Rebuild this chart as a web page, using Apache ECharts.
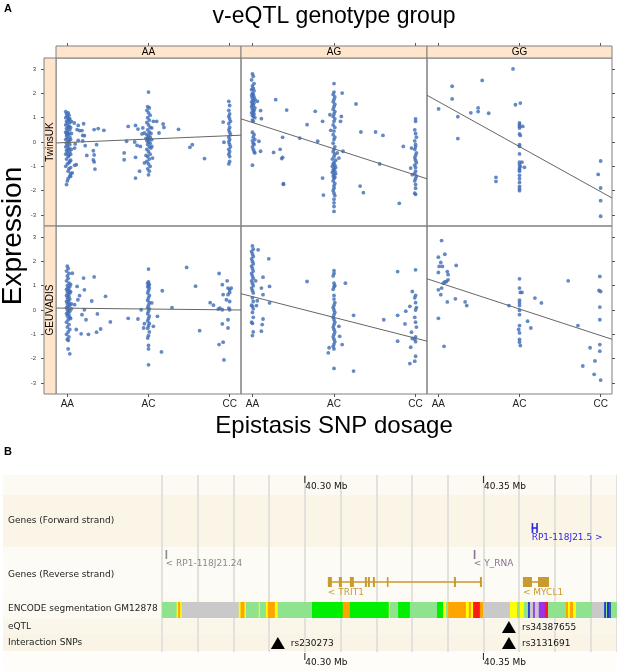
<!DOCTYPE html>
<html lang="en">
<head>
  <meta charset="UTF-8" />
  <title>v-eQTL genotype group</title>
  <script src="https://cdn.jsdelivr.net/npm/echarts@6.0.0/dist/echarts.min.js"></script>
  <style>
    body { margin: 0; background: #fff; }
    #chart { width: 617px; height: 671px; }
  </style>
</head>
<body>
  <div id="chart"></div>
  <script>
    // ---------- panel A data ----------
    const doseLabels = ['AA', 'AC', 'CC'];
    const groupLabels = ['AA', 'AG', 'GG'];
    const cohortLabels = ['TwinsUK', 'GEUVADIS'];
    const doseTicks = [0, 1, 2];
    const expressionTicks = [-3, -2, -1, 0, 1, 2, 3];

    // [epistasis dosage (jittered), expression]
    const twinsUK_AA = [
      [-0.02,1.25],[0.01,1.2],[-0.01,1.15],[0.02,1.1],[0,1.05],[-0.02,1],[0.02,0.95],[0.01,0.9],[-0.01,0.85],[0.03,0.8],
      [0,0.75],[-0.02,0.7],[0.02,0.65],[0.01,0.6],[-0.01,0.55],[0.03,0.5],[0,0.45],[-0.02,0.4],[0.02,0.35],[0.01,0.3],
      [-0.01,0.25],[0.03,0.2],[0,0.15],[-0.02,0.1],[0.02,0.05],[0.01,0],[-0.01,-0.05],[0.03,-0.1],[0,-0.15],[-0.02,-0.2],
      [0.02,-0.25],[0.01,-0.3],[-0.01,-0.35],[0.03,-0.4],[0,-0.45],[-0.02,-0.5],[0.02,-0.55],[0.01,-0.6],[-0.01,-0.7],[0.03,-0.8],
      [0,-0.9],[-0.02,-1],[0.02,-1.1],[0.01,-1.2],[0.04,-1.3],[0.03,-1.4],[0.01,-1.5],[0,-1.6],[-0.01,-1.75],[0.03,0.95],
      [0.04,0.6],[0.04,0.1],[0.05,-0.3],[0.04,-0.75],[-0.01,0.35],[0.02,-0.85],[0.04,-1.05],[0.05,0.35],[0.05,0.85],[0.04,-0.5],
      [0.085,0.78],[0.134,0.68],[0.2,0.75],[0.12,0.51],[0.15,0.47],[0.18,0.47],[0.19,0.27],[0.21,0.26],[0.134,0.07],[0.19,0.05],
      [0.097,-0.08],[0.22,-0.15],[0.09,-0.25],[0.24,-0.55],[0.32,-0.36],[0.33,-0.53],[0.36,-0.11],[0.33,0.51],[0.38,0.55],[0.45,0.48],
      [0.32,-0.74],[0.33,-0.82],[0.34,-1.11],[0.11,-0.93],[0.09,-0.96],[0.06,-1.27],[0.04,-1.41],
      [1,2.05],[0.99,1.45],[1.01,1.4],[0.98,1.3],[1,1.2],[1.02,1.1],[0.99,1],[1.01,0.9],[0.98,0.8],[1,0.7],
      [1.02,0.6],[0.99,0.5],[1.01,0.4],[0.98,0.3],[1,0.25],[1.02,0.2],[0.99,0.15],[1.01,0.1],[0.98,0.05],[1,0],
      [1.02,-0.05],[0.99,-0.1],[1.01,-0.2],[0.98,-0.3],[1,-0.4],[1.02,-0.5],[0.99,-0.6],[1.01,-0.7],[0.98,-0.8],[1,-0.9],
      [1.02,-1],[0.99,-1.1],[1.01,-1.2],[1,-1.35],[1.03,0.35],[0.97,0.15],[1.03,-0.25],[0.97,-0.55],
      [0.7,-0.45],[0.7,-0.73],[0.73,0.03],[0.75,0.64],[0.84,0.68],[0.87,0.53],[0.83,0],[0.86,-0.14],[0.84,-0.63],[0.84,-1.48],
      [0.89,-1.2],[0.9,-0.18],[0.93,0.58],[0.95,0.37],[0.92,0.33],[0.95,-0.86],[1.06,0.85],[1.1,0.85],[1.04,0.58],[1.04,0.1],
      [1.04,-0.18],[1.05,-0.66],[1.13,0.37],[1.18,0.74],[1.19,0.6],[1.37,0.52],[1.51,-0.22],[1.54,-0.11],[1.69,-0.68],
      [1.99,1.67],[2,1.5],[1.99,1.3],[2,1.15],[1.99,1.05],[2,0.95],[2.01,0.85],[1.99,0.75],[2,0.6],[1.99,0.5],
      [2,0.4],[2.01,0.3],[1.99,0.2],[2,0.1],[1.99,0],[2,-0.1],[2.01,-0.2],[1.99,-0.3],[2,-0.4],[1.99,-0.5],
      [2,-0.6],[2,-0.8],[1.99,-0.9],[1.92,0.82],[1.93,-0.01]
    ];
    const twinsUK_AG = [
      [0,2.8],[0.01,2.7],[-0.01,2.55],[0.02,2.4],[0,2.3],[0.01,2.2],[-0.01,2.15],[0.02,2.1],[0,2],[0.01,1.95],
      [-0.01,1.9],[0.02,1.85],[0,1.8],[0.03,1.75],[0.01,1.7],[-0.01,1.65],[0.02,1.6],[0,1.55],[0.01,1.5],[-0.01,1.45],
      [0.03,1.4],[0,1.35],[0.02,1.3],[0.01,1.25],[-0.01,1.2],[0.02,1.15],[0,1.1],[0.01,1.05],[0.03,1],[0,0.9],
      [0.01,0.85],[0,0.4],[0.02,0.3],[0.01,0.2],[0.03,0.1],[0,0.05],[0.01,-0.05],[0.02,-0.1],[0,-0.2],[0.01,-0.3],
      [0.02,-0.4],[0.03,-0.45],[0,-0.95],
      [0.1,1.29],[0.11,0.96],[0.06,1.67],[0.1,-0.38],[0.08,0.03],[0.285,1.74],[0.42,1.31],[0.37,0.19],[0.26,-0.43],[0.34,-0.3],
      [0.37,-0.63],[0.36,-0.68],[0.38,-1.71],[0.38,-1.74],[0.58,0.16],[0.67,0.71],[0.77,1.26],[0.8,0.03],[0.86,0.85],[0.86,-1.48],
      [0.87,-2.18],[0.95,1.12],[0.96,0.48],
      [1,2.4],[1,2.05],[0.99,1.95],[1.01,1.85],[1,1.75],[0.99,1.65],[1.01,1.55],[1,1.45],[0.99,1.35],[1.01,1.25],
      [1,1.15],[0.99,1.05],[1.01,0.95],[1,0.85],[0.99,0.7],[1.01,0.6],[1,0.45],[0.99,0.3],[1.01,0.2],[1,0.1],
      [0.99,-0.05],[1.01,-0.2],[1,-0.3],[0.99,-0.4],[1.01,-0.5],[1,-0.6],[0.98,-0.7],[1.02,-0.75],[1,-0.85],[0.99,-0.9],
      [1.01,-0.95],[0.98,-1],[1.02,-1.05],[1,-1.1],[0.99,-1.15],[1.01,-1.2],[0.98,-1.25],[1.02,-1.3],[1,-1.35],[0.99,-1.4],
      [1.01,-1.45],[1,-1.5],[0.99,-1.6],[1.01,-1.7],[1,-1.8],[1,-1.9],[0.99,-2],[1,-2.1],[1.01,-2.2],[1,-2.35],
      [1,-2.5],[1,-2.65],[1,-2.85],
      [1.1,2.01],[1.09,1.05],[1.08,0.85],[1.04,-0.45],[1.11,-0.38],[1.06,-0.66],[1.27,1.56],[1.33,0.41],[1.51,0.41],[1.6,0.27],
      [1.32,-1.81],[1.36,-2.08],[1.56,-0.9],[1.8,-2.52],[1.85,-0.18],
      [2,0.95],[2,0.85],[1.99,0.5],[2,0.35],[2.01,0.2],[1.99,0.05],[2,-0.1],[2,-0.2],[1.99,-0.3],[2.01,-0.45],
      [2,-0.55],[1.99,-0.65],[2,-0.75],[2.01,-0.85],[1.99,-0.95],[2,-1.05],[2,-1.2],[1.99,-1.3],[2.01,-1.4],[2,-1.5],
      [1.99,-1.6],[2,-1.75],[2,-1.9],[1.99,-2.1],[2,-2.15],[1.95,-0.25],[1.94,-1.07],[1.96,-1.34]
    ];
    const twinsUK_GG = [
      [0.003,1.36],[0.17,2.29],[0.17,1.77],[0.24,1.04],[0.24,0.14],[0.4,1.2],[0.49,1.4],[0.49,1.25],[0.54,2.53],[0.62,1.18],
      [0.71,-1.45],[0.71,-1.62],[0.92,3],[0.95,1.53],[1.01,1.6],[1,0.78],[1,0.71],[1,0.64],[1,0.57],[1,0.33],
      [1.01,0.27],[1,-0.11],[1,-0.18],[1,-0.49],[1,-0.83],[1,-0.93],[1.01,-1],[1,-1.07],[1,-1.14],[1,-1.2],
      [1,-1.37],[1,-1.51],[1,-1.66],[1,-1.82],[1,-1.92],[1,-2],[1.04,0.64],[1.06,-1.04],[1.03,-0.83],
      [2,-0.78],[1.97,-1.33],[2,-1.89],[2,-2.41],[2,-3.05]
    ];
    const geuvadis_AA = [
      [0,1.8],[0.01,1.7],[-0.01,1.6],[0.02,1.5],[0,1.4],[0.01,1.3],[-0.01,1.2],[0.02,1.1],[0,1],[0.03,0.95],
      [0.01,0.9],[-0.01,0.85],[0.02,0.8],[0,0.75],[0.03,0.7],[0.01,0.65],[-0.01,0.6],[0.02,0.55],[0,0.5],[0.03,0.45],
      [0.01,0.4],[-0.01,0.35],[0.02,0.3],[0,0.25],[0.03,0.2],[0.01,0.15],[-0.01,0.1],[0.02,0.05],[0,0],[0.03,-0.05],
      [0.01,-0.1],[-0.01,-0.15],[0.02,-0.2],[0,-0.25],[0.03,-0.3],[0.01,-0.4],[-0.01,-0.5],[0.02,-0.6],[0,-0.7],[0.03,-0.8],
      [0.01,-0.9],[-0.01,-1],[0.02,-1.1],[0,-1.2],[0.01,-1.25],[0.01,-1.6],[0.03,-1.8],[0.04,0.75],[0.05,0.25],[0.04,-0.35],
      [0.05,0.05],[0.04,1.05],
      [0.06,1.51],[0.12,0.97],[0.13,0.42],[0.11,-0.8],[0.17,-0.98],[0.18,-0.19],[0.2,1.31],[0.21,0.83],[0.21,0.01],[0.23,-0.4],
      [0.26,-1],[0.3,0.37],[0.33,1.36],[0.36,-0.91],[0.37,-0.16],[0.41,-0.78],[0.47,0.56],[0.53,-0.49],[0.15,0.59],[0.09,0.22],
      [1,1.68],[1,1.15],[0.99,1.1],[1.01,1.05],[1,1],[0.99,0.95],[1.01,0.9],[1,0.8],[0.99,0.7],[1.01,0.6],
      [1,0.5],[0.99,0.4],[1.01,0.3],[1,0.2],[0.99,0.1],[1.01,0.05],[1,-0.05],[0.99,-0.15],[1.01,-0.25],[1,-0.35],
      [0.99,-0.45],[1.01,-0.55],[1,-0.65],[0.99,-0.75],[1.01,-0.9],[1,-1.05],[0.99,-1.15],[1,-1.45],[1,-1.6],[1,-2.25],
      [0.75,-0.34],[0.87,-0.37],[0.91,0.01],[0.94,-0.74],[0.95,-0.56],[1.04,0.29],[1.06,-0.67],[1.11,-0.26],[1.17,0.79],[1.16,-1.72],
      [1.29,0.1],[1.47,1.75],[1.58,0.98],[1.63,-0.85],[1.76,0.3],[1.8,0.2],
      [1.87,1.5],[1.91,1.04],[1.97,1.2],[1.92,0.63],[1.98,0.9],[2,0.83],[1.98,0.63],[1.96,0.42],[2,0.35],[1.99,0.08],
      [2,0.01],[1.88,0.08],[1.91,0.01],[1.91,-0.57],[1.98,-0.4],[1.98,-0.74],[1.87,-1.42],[1.92,-1.32],[1.93,-2.05],[1.86,0.04],
      [2,0.72],[2.02,0.9]
    ];
    const geuvadis_AG = [
      [0,2.63],[0.01,2.5],[-0.01,2.4],[0,2.3],[0.01,2.2],[-0.01,2.1],[0,2],[0.01,1.9],[-0.01,1.8],[0,1.7],
      [0.01,1.6],[-0.01,1.5],[0,1.4],[0.01,1.3],[-0.01,1.2],[0,1.1],[0.01,1],[-0.01,0.9],[0,0.8],[0.01,0.7],
      [0,0.5],[0.01,0.35],[-0.01,0.2],[0,0.15],[0.01,0.05],[0,-0.1],[0.01,-0.3],[-0.01,-0.5],[0,-0.55],[0.01,-0.9],
      [0,-1.05],
      [0.07,2.47],[0.04,1.2],[0.05,0.18],[0.06,0.38],[0.11,-0.87],[0.12,-0.6],[0.13,1.35],[0.11,0.9],[0.13,-0.37],[0.13,0.63],
      [0.2,2.1],[0.21,0.97],[0.21,0.29],[0.67,1.17],
      [1,1.62],[1,1.5],[0.99,1.4],[1,1.1],[1.01,1],[1,0.95],[0.99,0.85],[1,0.6],[1,0.45],[1.01,0.3],
      [1,0.2],[0.99,0.1],[1,0],[1.01,-0.1],[1,-0.2],[0.99,-0.3],[1,-0.4],[1.01,-0.5],[1,-0.6],[0.99,-0.7],
      [1,-0.8],[1.01,-0.9],[1,-1],[0.99,-1.1],[1,-1.2],[1.01,-1.3],[1,-1.4],[0.99,-1.5],[1,-1.6],[1,-2.4],
      [0.93,-1.76],[0.94,-1.55],[1.06,-0.67],[1.07,-1.08],[1.1,-1.42],[1.14,1.1],[1.24,-0.22],[1.24,-2.51],[1.61,-0.4],[1.78,1.58],
      [1.78,-0.22],[1.78,-1.28],[1.87,-0.57],[1.88,-0.05],[1.93,0.15],[1.93,-2.2],[1.95,-0.91],[1.94,-1.53],[1.96,0.76],[1.96,-1.17],
      [2,1.65],[2,0.6],[1.99,0.5],[2,0.3],[2.01,0.1],[2,0],[1.99,-0.3],[2,-0.5],[2.01,-0.7],[2,-1.1],
      [1.99,-1.2],[2,-1.3],[2,-1.9],[1.99,-2.1]
    ];
    const geuvadis_GG = [
      [0.04,2.85],[0,2.17],[0.08,2.29],[0.03,1.95],[0.01,1.79],[0.05,1.79],[0,1.54],[0.11,1.58],[0.12,1.45],[0.08,1.15],
      [0.1,1.17],[0.06,1.1],[0.12,1.24],[0.22,1.83],[0,0.83],[0.04,0.9],[0.03,0.63],[0.11,0.33],[0.21,0.46],[0.33,0.33],
      [0.35,0.18],[0,-0.34],[0.07,-1.49],
      [1,1.28],[1,0.9],[1.01,0.72],[1.03,0.72],[1,0.4],[1,0.29],[1,0.18],[1,-0.01],[1,-0.19],[1,-0.64],
      [0.99,-0.8],[1,-0.94],[1,-1.21],[1,-1.32],[1.01,-1.46],[1.1,-0.46],[1.14,-0.74],[1.19,0.49],[1.27,0.29],[0.87,0.18],
      [1.6,1.2],[1.72,-0.64],
      [1.99,1.38],[1.98,0.8],[2,0.76],[1.99,0.12],[1.99,-0.4],[1.99,-1.42],[1.99,-1.69],[1.87,-1.55],[1.93,-2.09],[1.78,-2.3],
      [1.92,-2.64],[2,-2.88]
    ];
    const panelPoints = [twinsUK_AA, twinsUK_AG, twinsUK_GG, geuvadis_AA, geuvadis_AG, geuvadis_GG];
    // fitted lines, one per panel (same order)
    const fitIntercept = [-0.02, 0.80, 1.66, 0.075, 0.55, 1.13];
    const fitSlope = [0.14, -1.08, -1.85, -0.035, -0.855, -1.09];

    // ---------- panel B data ----------
    const rulerMarks = [40.30, 40.35];
    const trackLabels = ['Genes (Forward strand)', 'Genes (Reverse strand)', 'ENCODE segmentation GM12878', 'eQTL', 'Interaction SNPs'];
    const geneNames = ['RP1-118J21.5', 'RP1-118J21.24', 'Y_RNA', 'TRIT1', 'MYCL1'];
    const geneStrands = ['+', '-', '-', '-', '-'];
    const geneExons = [
      [[40.36350, 40.36378], [40.36479, 40.36507]],
      [[40.26100, 40.26130]],
      [[40.34730, 40.34760]],
      [[40.30644, 40.30756], [40.30952, 40.31036], [40.31261, 40.31373], [40.31681, 40.31737], [40.31765, 40.31821],
       [40.31905, 40.31961], [40.32297, 40.32325], [40.34174, 40.34230], [40.34902, 40.34958]],
      [[40.36106, 40.36359], [40.36527, 40.36835]]
    ];
    // [start Mb, end Mb, chromatin state]
    const encodeSegments = [
      [40.2600,40.2641,'lg'],[40.2641,40.2645,'y'],[40.2645,40.2651,'o'],[40.2651,40.2655,'y'],[40.2655,40.2815,'gr'],
      [40.2815,40.2820,'y'],[40.2820,40.2831,'o'],[40.2831,40.2835,'y'],[40.2835,40.2871,'lg'],[40.2871,40.2874,'y'],
      [40.2874,40.2891,'lg'],[40.2891,40.2896,'y'],[40.2896,40.2916,'o'],[40.2916,40.2924,'y'],[40.2924,40.3020,'lg'],
      [40.3020,40.3106,'g'],[40.3106,40.3126,'o'],[40.3126,40.3235,'g'],[40.3235,40.3238,'y'],[40.3238,40.3261,'lg'],
      [40.3261,40.3294,'g'],[40.3294,40.3370,'lg'],[40.3370,40.3387,'g'],[40.3387,40.3395,'y'],[40.3395,40.3401,'lg'],
      [40.3401,40.3451,'o'],[40.3451,40.3459,'y'],[40.3459,40.3465,'o'],[40.3465,40.3471,'y'],[40.3471,40.3490,'r'],
      [40.3490,40.3499,'o'],[40.3499,40.3574,'gr'],[40.3574,40.3594,'y'],[40.3594,40.3602,'lg'],[40.3602,40.3613,'y'],
      [40.3613,40.3625,'lg'],[40.3625,40.3630,'b'],[40.3630,40.3639,'gr'],[40.3639,40.3644,'p'],[40.3644,40.3655,'gr'],
      [40.3655,40.3672,'p'],[40.3672,40.3681,'r'],[40.3681,40.3731,'lg'],[40.3731,40.3737,'o'],[40.3737,40.3742,'y'],
      [40.3742,40.3751,'o'],[40.3751,40.3759,'y'],[40.3759,40.3804,'lg'],[40.3804,40.3838,'gr'],[40.3838,40.3843,'b'],
      [40.3843,40.3846,'lg'],[40.3846,40.3852,'b'],[40.3852,40.3857,'db'],[40.3857,40.3874,'lg']
    ];
    const eqtlNames = ['rs34387655'];
    const eqtlPos = [40.35714];
    const snpNames = ['rs230273', 'rs3131691'];
    const snpPos = [40.29244, 40.35714];

    // ---------- styles / layout ----------
    const FONT_A = '"Liberation Sans", Arial, sans-serif';
    const FONT_B = '"DejaVu Sans", sans-serif';
    const POINT = '#3d6cb5';
    const STRIP = '#ffe5cc';
    const BORDER = '#808080';
    const stateColors = { lg: '#8fe38f', g: '#00ee00', o: '#ffa500', y: '#ffff00', r: '#ff1a1a',
                          gr: '#c9c9c9', b: '#2233cc', p: '#9933ee', db: '#1d5f8c' };
    const geneColors = { 'RP1-118J21.5': '#2a2ae0', 'RP1-118J21.24': '#8a8a8a', 'Y_RNA': '#8d6f8f',
                         'TRIT1': '#c99a2e', 'MYCL1': '#c99a2e' };
    const geneLane = { 'RP1-118J21.5': 'fwd', 'RP1-118J21.24': 'revTop', 'Y_RNA': 'revTop',
                       'TRIT1': 'revBottom', 'MYCL1': 'revBottom' };
    const lanes = { fwd: { top: 48, bottom: 58, label: 63 },
                    revTop: { top: 75, bottom: 84, label: 89 },
                    revBottom: { top: 102, bottom: 112, label: 118 } };
    const trackY = { encodeTop: 127, encodeBottom: 143, eqtl: 152, snp: 168 };

    const colLeft = [56, 241, 427], colWidth = [185, 186, 185];
    const rowTop = [58, 226], rowHeight = 168;
    const xRange = [-0.14, 2.14], yRange = [-3.45, 3.45];
    const stripTop = 46, stripLeft = 44;
    const B_GRID = { left: 162, top: 475, width: 455, height: 177 };

    const grids = [], xAxes = [], yAxes = [], series = [], graphics = [];

    for (let r = 0; r < 2; r++) {
      for (let c = 0; c < 3; c++) {
        const i = r * 3 + c;
        grids.push({ left: colLeft[c], top: rowTop[r], width: colWidth[c], height: rowHeight,
                     show: true, borderColor: BORDER, borderWidth: 1, backgroundColor: 'transparent' });
        xAxes.push({
          gridIndex: i, type: 'value', min: xRange[0], max: xRange[1],
          position: r === 0 ? 'top' : 'bottom', offset: r === 0 ? rowTop[0] - stripTop : 0,
          axisLine: { show: false, onZero: false }, splitLine: { show: false },
          axisTick: { show: true, length: 3, customValues: doseTicks, lineStyle: { color: '#555' } },
          axisLabel: { show: r === 1, customValues: doseTicks, formatter: v => doseLabels[Math.round(v)],
                       fontSize: 10, fontFamily: FONT_A, color: '#222', margin: 5 }
        });
        yAxes.push({
          gridIndex: i, type: 'value', min: yRange[0], max: yRange[1],
          show: c !== 1, position: c === 2 ? 'right' : 'left', offset: c === 0 ? colLeft[0] - stripLeft : 0,
          axisLine: { show: false, onZero: false }, splitLine: { show: false },
          axisTick: { show: true, length: 3, customValues: expressionTicks, lineStyle: { color: '#555' } },
          axisLabel: { show: c === 0, customValues: expressionTicks, fontSize: 6, fontFamily: FONT_A,
                       color: '#444', margin: 8 }
        });
        series.push({
          type: 'scatter', xAxisIndex: i, yAxisIndex: i, data: panelPoints[i],
          symbolSize: 3.8, itemStyle: { color: POINT }, silent: true, z: 2
        });
        const a = fitIntercept[i], b = fitSlope[i];
        series.push({
          type: 'line', xAxisIndex: i, yAxisIndex: i, symbol: 'none', silent: true, z: 3,
          data: [[xRange[0], a + b * xRange[0]], [xRange[1], a + b * xRange[1]]],
          lineStyle: { color: '#666', width: 1 }
        });
      }
    }

    // panel B: genome browser tracks
    grids.push(B_GRID);
    xAxes.push({
      gridIndex: 6, type: 'value', min: 40.26, max: 40.3874, interval: 0.01,
      axisLine: { show: false, onZero: false }, axisTick: { show: false }, axisLabel: { show: false },
      splitLine: { show: true, lineStyle: { color: '#e3e1db', width: 2 } }
    });
    yAxes.push({ gridIndex: 6, type: 'value', min: 0, max: B_GRID.height, inverse: true, show: false });

    const bText = (x, y, text, fill) => ({
      type: 'text', x: x, y: y,
      style: { text: text, fill: fill, font: '9px ' + FONT_B, textAlign: 'left', textVerticalAlign: 'middle' }
    });

    series.push({
      type: 'custom', xAxisIndex: 6, yAxisIndex: 6, silent: true, z: 5,
      data: rulerMarks.map(v => [v]),
      renderItem(params, api) {
        const v = api.value(0);
        const x = api.coord([v, 0])[0];
        const y = t => api.coord([v, t])[1];
        const label = v.toFixed(2) + ' Mb';
        return { type: 'group', children: [
          { type: 'line', shape: { x1: x, y1: y(1), x2: x, y2: y(8) }, style: { stroke: '#222', lineWidth: 1 } },
          bText(x + 0.5, y(11.5), label, '#111'),
          { type: 'line', shape: { x1: x, y1: y(178), x2: x, y2: y(185) }, style: { stroke: '#222', lineWidth: 1 } },
          bText(x + 0.5, y(188), label, '#111')
        ] };
      }
    });

    series.push({
      type: 'custom', xAxisIndex: 6, yAxisIndex: 6, silent: true, z: 4,
      data: encodeSegments.map(s => [s[0], s[1]]), encode: { x: [0, 1] },
      renderItem(params, api) {
        const p0 = api.coord([api.value(0), trackY.encodeTop]);
        const p1 = api.coord([api.value(1), trackY.encodeBottom]);
        return { type: 'rect', shape: { x: p0[0], y: p0[1], width: p1[0] - p0[0] + 0.4, height: p1[1] - p0[1] },
                 style: { fill: stateColors[encodeSegments[params.dataIndex][2]] } };
      }
    });

    series.push({
      type: 'custom', xAxisIndex: 6, yAxisIndex: 6, silent: true, z: 5,
      data: geneExons.map(ex => [ex[0][0], ex[ex.length - 1][1]]), encode: { x: [0, 1] },
      renderItem(params, api) {
        const i = params.dataIndex, name = geneNames[i], ex = geneExons[i];
        const lane = lanes[geneLane[name]], color = geneColors[name];
        const yTop = api.coord([ex[0][0], lane.top])[1], yBot = api.coord([ex[0][0], lane.bottom])[1];
        const yMid = (yTop + yBot) / 2;
        const xs = api.coord([ex[0][0], 0])[0], xe = api.coord([ex[ex.length - 1][1], 0])[0];
        const children = [];
        if (ex.length > 1) {
          children.push({ type: 'line', shape: { x1: xs, y1: yMid, x2: xe, y2: yMid },
                          style: { stroke: color, lineWidth: 1.6 } });
        }
        ex.forEach(e => {
          const a = api.coord([e[0], 0])[0], b = api.coord([e[1], 0])[0];
          children.push({ type: 'rect', shape: { x: a, y: yTop, width: Math.max(b - a, 1.6), height: yBot - yTop },
                          style: { fill: color } });
        });
        const label = geneStrands[i] === '+' ? name + ' >' : '< ' + name;
        children.push(bText(xs, api.coord([ex[0][0], lane.label])[1], label, color));
        return { type: 'group', children: children };
      }
    });

    const snpSeries = (pos, names, lane) => ({
      type: 'custom', xAxisIndex: 6, yAxisIndex: 6, silent: true, z: 6,
      data: pos.map(p => [p]),
      renderItem(params, api) {
        const c = api.coord([api.value(0), lane]);
        return { type: 'group', children: [
          { type: 'polygon', shape: { points: [[c[0], c[1] - 6], [c[0] - 7, c[1] + 6], [c[0] + 7, c[1] + 6]] },
            style: { fill: '#000' } },
          bText(c[0] + 13, c[1] + 0.5, names[params.dataIndex], '#111')
        ] };
      }
    });
    series.push(snpSeries(eqtlPos, eqtlNames, trackY.eqtl));
    series.push(snpSeries(snpPos, snpNames, trackY.snp));

    // ---------- decorations ----------
    const text = (x, y, str, font, extra) => Object.assign({
      type: 'text', x: x, y: y, z: 100, silent: true,
      style: { text: str, font: font, fill: '#000', textAlign: 'center', textVerticalAlign: 'middle' }
    }, extra || {});

    graphics.push(text(8, 9, 'A', 'bold 11px ' + FONT_A));
    graphics.push(text(8, 452, 'B', 'bold 11px ' + FONT_A));
    graphics.push(text(334, 17, 'v-eQTL genotype group', '23px ' + FONT_A));
    graphics.push(text(13, 236, 'Expression', '28px ' + FONT_A, { rotation: Math.PI / 2 }));
    graphics.push(text(334, 426, 'Epistasis SNP dosage', '24px ' + FONT_A));

    for (let c = 0; c < 3; c++) {
      graphics.push({ type: 'rect', z: 50, silent: true,
        shape: { x: colLeft[c], y: stripTop, width: colWidth[c], height: rowTop[0] - stripTop },
        style: { fill: STRIP, stroke: BORDER, lineWidth: 1 } });
      graphics.push(text(colLeft[c] + colWidth[c] / 2, 52.5, groupLabels[c], '10px ' + FONT_A));
    }
    for (let r = 0; r < 2; r++) {
      graphics.push({ type: 'rect', z: 50, silent: true,
        shape: { x: stripLeft, y: rowTop[r], width: colLeft[0] - stripLeft, height: rowHeight },
        style: { fill: STRIP, stroke: BORDER, lineWidth: 1 } });
      graphics.push(text(50.5, rowTop[r] + rowHeight / 2, cohortLabels[r], '10px ' + FONT_A,
                         { rotation: Math.PI / 2 }));
    }

    const bandRows = [[475, 20, '#fdfaf3'], [495, 52, '#fbf5e7'], [547, 51, '#fdfbf6'], [598, 21, '#fdfaf4'],
                      [619, 15, '#fbf6ea'], [634, 17, '#faf4e6'], [651, 20, '#fefdf9']];
    bandRows.forEach(b => graphics.push({ type: 'rect', z: -10, silent: true,
      shape: { x: 3, y: b[0], width: 614, height: b[1] }, style: { fill: b[2] } }));
    const labelY = [521, 575, 609, 627, 643];
    trackLabels.forEach((t, i) => graphics.push({
      type: 'text', x: 8, y: labelY[i], z: 100, silent: true,
      style: { text: t, font: '9px ' + FONT_B, fill: '#222', textAlign: 'left', textVerticalAlign: 'middle' }
    }));

    const chart = echarts.init(document.getElementById('chart'), null, { renderer: 'canvas' });
    chart.setOption({
      animation: false,
      backgroundColor: '#fff',
      grid: grids,
      xAxis: xAxes,
      yAxis: yAxes,
      series: series,
      graphic: { elements: graphics }
    });
  </script>
</body>
</html>
